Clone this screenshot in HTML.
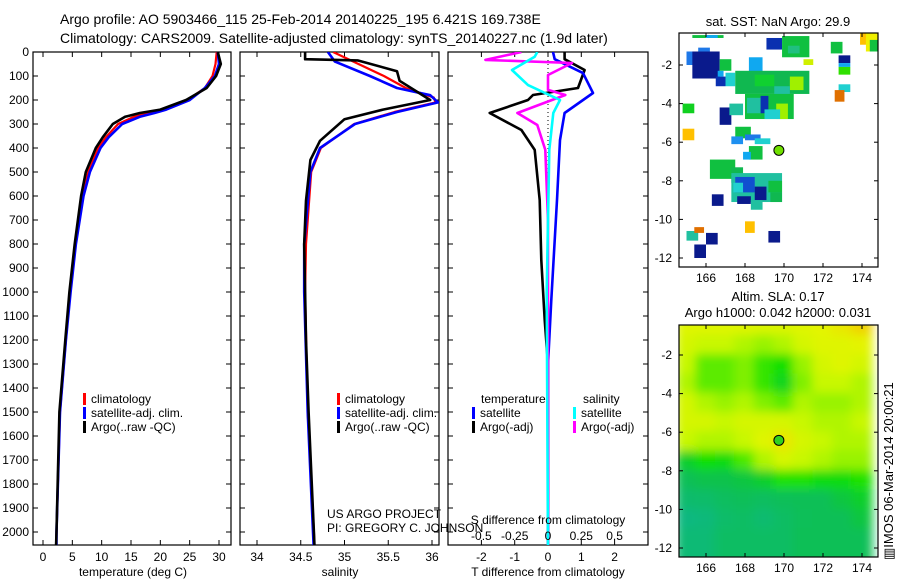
<!DOCTYPE html>
<html><head><meta charset="utf-8"><style>
body{margin:0;background:#fff;}
svg{display:block;font-family:"Liberation Sans",sans-serif;}
text{fill:#000;}
</style></head><body>
<svg id="chart" width="900" height="580" viewBox="0 0 900 580" xmlns="http://www.w3.org/2000/svg">
<defs>
<clipPath id="c1"><rect x="33" y="52" width="198" height="493"/></clipPath>
<clipPath id="c2"><rect x="240" y="52" width="199" height="493"/></clipPath>
<clipPath id="c3"><rect x="448" y="52" width="200" height="493"/></clipPath>
<clipPath id="cm1"><rect x="679" y="33" width="199" height="234"/></clipPath>
<clipPath id="cm2"><rect x="679" y="325" width="199" height="232"/></clipPath>
<filter id="blur"><feGaussianBlur stdDeviation="5"/></filter>
</defs>
<text x="60" y="24" font-size="14">Argo profile: AO 5903466_115 25-Feb-2014 20140225_195 6.421S 169.738E</text>
<text x="60" y="43" font-size="14">Climatology: CARS2009. Satellite-adjusted climatology: synTS_20140227.nc (1.9d later)</text>
<text x="778" y="26" font-size="13" text-anchor="middle">sat. SST: NaN Argo: 29.9</text>
<text x="778" y="301" font-size="13" text-anchor="middle">Altim. SLA: 0.17</text>
<text x="778" y="317" font-size="13" text-anchor="middle">Argo h1000: 0.042 h2000: 0.031</text>
<text transform="translate(893,560) rotate(-90)" font-size="13">▥IMOS 06-Mar-2014 20:00:21</text>
<g id="g"></g>
</svg>
<script>
// ---- data ----
const depthTicks=[0,100,200,300,400,500,600,700,800,900,1000,1100,1200,1300,1400,1500,1600,1700,1800,1900,2000];
const tempTicks=[0,5,10,15,20,25,30];
const salTicks=[34,34.5,35,35.5,36];
const tdiffTicks=[-2,-1,0,1,2];
const sdiffTicks=[-0.5,-0.25,0,0.25,0.5];
const sdiffLabels=["-0.5","-0.25","0","0.25","0.5"];
const lonTicks=[166,168,170,172,174];
const latTicks=[-2,-4,-6,-8,-10,-12];

const tDepth=[0,50,100,150,200,240,254,270,300,355,400,500,600,800,1000,1200,1500,2000,2080];
const tClim=[29.6,29.4,28.9,27.6,24.6,20.5,18,15.5,12.8,10.7,9.4,7.7,6.7,5.5,4.6,3.9,2.9,2.3,2.2];
const tArgo=[29.8,30.3,29.5,27.9,24.4,20,16.5,14,11.9,10.2,9.0,7.3,6.5,5.4,4.5,3.8,2.8,2.3,2.2];
const tSat=[29.8,30.0,29.3,27.6,25.0,21,19,16.5,13.5,11.2,9.8,8.0,6.9,5.6,4.7,3.9,2.9,2.3,2.3];

const sArgoDepth=[0,30,35,80,120,200,240,280,370,450,620,800,1000,1200,1500,2000,2080];
const sArgo=[34.55,34.55,35.15,35.6,35.63,35.98,35.44,35.0,34.72,34.61,34.56,34.54,34.55,34.56,34.59,34.65,34.66];
const sClimDepth=[0,100,150,190,210,250,300,400,500,800,1000,1500,2000,2080];
const sClim=[34.87,35.45,35.7,36.02,36.04,35.57,35.11,34.73,34.62,34.56,34.55,34.58,34.65,34.66];
const sSatDepth=[0,40,100,150,180,210,250,300,400,500,800,1000,1500,2000,2080];
const sSat=[34.81,34.89,35.29,35.6,35.98,36.07,35.6,35.12,34.72,34.61,34.54,34.54,34.58,34.64,34.65];

const dTSatDepth=[0,30,88,171,254,367,617,1033,1300,2080];
const dTSat=[0.15,0.2,1.05,1.35,0.5,0.36,0.27,0.1,0.0,0.0];
const dTArgoDepth=[0,30,75,150,179,200,254,325,408,617,867,1117,1300,2080];
const dTArgo=[0.5,0.5,1.1,0.9,-0.45,-0.6,-1.75,-0.8,-0.4,-0.25,-0.2,-0.1,0,0];
const dSArgoDepth=[0,33,46,96,158,179,254,304,408,700,2080];
const dSArgo=[-0.2,-0.47,0.18,0,0,0.13,-0.23,-0.08,-0.02,0,0];
const dSSatDepth=[0,20,75,138,200,254,408,1000,2080];
const dSSat=[-0.08,-0.1,-0.27,-0.15,0.09,0.04,0.01,-0.01,0];

// SST cells: lon1, lat1, lon2, lat2, colour
const sstCells=[
[165.3,-0.45,166.9,-0.6,"#10c040"],[166.0,-0.45,166.6,-0.6,"#10a8f0"],
[165.0,-1.3,165.4,-2.0,"#1e78e8"],[165.3,-1.3,166.7,-2.7,"#0a1a8c"],[165.6,-1.1,166.2,-1.3,"#1e78e8"],
[166.7,-1.7,167.3,-2.3,"#10c040"],[166.5,-2.6,167.0,-3.1,"#0a30b0"],[167.0,-2.4,167.5,-3.1,"#20d0d0"],[166.6,-2.3,166.9,-2.6,"#10a8f0"],
[169.1,-0.6,169.9,-1.2,"#0a30b0"],[169.9,-0.5,171.3,-1.6,"#10c040"],[170.2,-1.0,170.8,-1.4,"#20c080"],
[171.0,-1.7,171.5,-2.0,"#d0f000"],[168.2,-1.6,168.9,-2.5,"#10a8f0"],
[167.5,-2.3,171.3,-3.5,"#10b850"],[168.5,-2.5,169.5,-3.1,"#10d030"],[170.3,-2.6,171.0,-3.3,"#a0f000"],[169.5,-3.1,170.3,-3.5,"#20c0a0"],
[168.0,-3.5,170.5,-4.8,"#10c040"],[168.1,-3.7,168.8,-4.5,"#20c0a0"],[168.8,-3.6,169.2,-4.5,"#0a30b0"],[169.6,-4.0,170.2,-4.8,"#a0f000"],[169.0,-4.3,169.8,-4.8,"#20d0d0"],
[172.4,-0.8,173.0,-1.4,"#10c040"],[172.8,-1.5,173.4,-1.9,"#0a1a8c"],[172.8,-1.9,173.4,-2.1,"#10a8f0"],[172.8,-2.1,173.4,-2.5,"#30e000"],
[173.9,-0.3,174.5,-0.95,"#ffc000"],[174.2,-0.3,174.8,-1.3,"#f0f000"],[174.4,-0.7,174.8,-1.3,"#10c040"],
[172.8,-3.0,173.4,-3.4,"#20d0d0"],[172.6,-3.3,173.1,-3.9,"#e07000"],
[164.8,-4.0,165.4,-4.5,"#10d020"],[166.7,-4.2,167.3,-5.1,"#0a1a8c"],[167.2,-4.0,167.9,-4.6,"#20c0a0"],[164.8,-5.3,165.4,-5.9,"#ffc000"],
[167.5,-5.2,168.3,-5.8,"#10c040"],[167.3,-5.7,167.9,-6.1,"#1e90f0"],[168.0,-5.6,168.8,-5.9,"#1e78e8"],[168.5,-5.8,169.3,-6.1,"#20d0d0"],
[168.2,-6.2,168.9,-6.9,"#10c040"],[167.9,-6.5,168.3,-6.9,"#10a8f0"],
[166.2,-6.9,167.5,-7.9,"#10c040"],[167.3,-7.3,167.9,-8.1,"#10b850"],
[167.3,-7.6,169.9,-9.1,"#20c0a0"],[167.5,-7.8,168.5,-8.6,"#1050d0"],[168.5,-8.3,169.1,-9.0,"#0a1a8c"],[169.2,-8.0,169.9,-8.6,"#10c040"],[167.4,-8.1,167.9,-8.6,"#20d0d0"],
[166.3,-8.7,166.9,-9.3,"#0a1a8c"],[167.6,-8.8,168.3,-9.2,"#0a1a8c"],[168.3,-9.0,168.9,-9.5,"#20c0a0"],[169.3,-8.6,169.9,-9.1,"#10b850"],
[168.0,-10.1,168.5,-10.7,"#ffc000"],[169.2,-10.6,169.8,-11.2,"#0a1a8c"],
[165.0,-10.6,165.6,-11.1,"#20c0a0"],[165.4,-10.4,165.9,-10.7,"#e07000"],[165.4,-11.3,166.0,-12.0,"#0a1a8c"],[166.0,-10.7,166.6,-11.3,"#0a1a8c"]
];

// SLA grid values (rows lat -0.5..-12.5, cols lon 165..174)
const slaLats=[-0.5,-1.5,-2.5,-3.5,-4.5,-5.5,-6.5,-7.5,-8.5,-9.5,-10.5,-11.5,-12.5];
const slaLons=[165,166,167,168,169,170,171,172,173,174];
const slaGrid=[
[0.9,0.9,0.9,0.9,0.88,0.88,0.9,0.92,0.95,1.0],
[0.85,0.8,0.8,0.75,0.7,0.75,0.85,0.9,0.9,0.92],
[0.8,0.6,0.6,0.65,0.55,0.5,0.7,0.85,0.9,0.85],
[0.75,0.6,0.6,0.65,0.55,0.45,0.65,0.8,0.8,0.75],
[0.85,0.75,0.7,0.75,0.65,0.6,0.75,0.7,0.7,0.75],
[0.85,0.85,0.8,0.85,0.85,0.85,0.8,0.75,0.75,0.8],
[0.8,0.75,0.75,0.8,0.9,0.95,0.85,0.8,0.75,0.75],
[0.42,0.5,0.48,0.58,0.75,0.85,0.8,0.75,0.7,0.7],
[0.33,0.36,0.36,0.38,0.42,0.52,0.52,0.48,0.48,0.52],
[0.25,0.26,0.3,0.32,0.3,0.32,0.33,0.33,0.38,0.42],
[0.18,0.2,0.26,0.28,0.24,0.28,0.32,0.33,0.33,0.38],
[0.22,0.22,0.28,0.28,0.28,0.28,0.33,0.33,0.33,0.33],
[0.22,0.22,0.28,0.28,0.28,0.28,0.33,0.33,0.33,0.33]
];
const argoLon=169.738, argoLat=-6.421;

// ---- scales ----
const yD=d=>52+d*0.24;
const xT=v=>43+v*(219-43)/30;
const xS=v=>257+(v-34)*(432-257)/2;
const xDT=v=>548+v*33.3;
const xDS=v=>548+v*133.2;
const mX=lon=>706+(lon-166)*19.5;
const mY1=lat=>65+(-2-lat)*19.3;
const mY2=lat=>355+(-2-lat)*19.3;

const NS="http://www.w3.org/2000/svg";
const G=document.getElementById('g');
function el(tag,attrs,parent){const e=document.createElementNS(NS,tag);for(const k in attrs)e.setAttribute(k,attrs[k]);(parent||G).appendChild(e);return e;}
function txt(x,y,s,size,anchor,parent){const t=el('text',{x:x,y:y,'font-size':size,'text-anchor':anchor||'start'},parent);t.textContent=s;return t;}

function frame(x,y,w,h,name){
  const r=el('rect',{x:x,y:y,width:w,height:h,fill:'none',stroke:'#000','stroke-width':1.2});
  
  
}
function line(xs,ds,fx,col,w,clip,name){
  const pts=xs.map((v,i)=>fx(v).toFixed(1)+','+yD(ds[i]).toFixed(1)).join(' ');
  const p=el('polyline',{points:pts,fill:'none',stroke:col,'stroke-width':w,'clip-path':'url(#'+clip+')','stroke-linejoin':'round'});
  
  
}
function depthAxis(x0,x1,labels){
  depthTicks.forEach(d=>{
    el('line',{x1:x0,y1:yD(d),x2:x0+5,y2:yD(d),stroke:'#000'});
    el('line',{x1:x1,y1:yD(d),x2:x1-5,y2:yD(d),stroke:'#000'});
    if(labels){const t=txt(x0-4,yD(d)+4,String(d),12,'end');
      
      }
  });
}
function xAxis(ticks,fx,labels,yb,ytop,ylab){
  ticks.forEach((v,i)=>{
    el('line',{x1:fx(v),y1:yb,x2:fx(v),y2:yb-5,stroke:'#000'});
    el('line',{x1:fx(v),y1:ytop,x2:fx(v),y2:ytop+5,stroke:'#000'});
    if(ylab){const t=txt(fx(v),ylab,labels?labels[i]:String(v),12,'middle');
      
      }
  });
}
function legendItem(x,y,col,label){
  const r=el('rect',{x:x,y:y-10,width:3,height:12,fill:col});
  
  
  const t=txt(x+8,y,label,12);
  
  
}

// panel 1: temperature
frame(33,52,198,493,'temperature-panel');
depthAxis(33,231,true);
xAxis(tempTicks,xT,null,545,52,561);
line(tClim,tDepth,xT,'#ff0000',2.2,'c1','temp-climatology-line');
line(tSat,tDepth,xT,'#0000ff',2.6,'c1','temp-satellite-line');
line(tArgo,tDepth,xT,'#000000',2.6,'c1','temp-argo-line');
let t=txt(133,576,'temperature (deg C)',12,'middle');
legendItem(83,403,'#ff0000','climatology');
legendItem(83,417,'#0000ff','satellite-adj. clim.');
legendItem(83,431,'#000000','Argo(..raw -QC)');

// panel 2: salinity
frame(240,52,199,493,'salinity-panel');
depthAxis(240,439,false);
xAxis(salTicks,xS,["34","34.5","35","35.5","36"],545,52,561);
line(sClim,sClimDepth,xS,'#ff0000',2.2,'c2','sal-climatology-line');
line(sSat,sSatDepth,xS,'#0000ff',2.6,'c2','sal-satellite-line');
line(sArgo,sArgoDepth,xS,'#000000',2.6,'c2','sal-argo-line');
t=txt(340,576,'salinity',12,'middle');
legendItem(337,403,'#ff0000','climatology');
legendItem(337,417,'#0000ff','satellite-adj. clim.');
legendItem(337,431,'#000000','Argo(..raw -QC)');
t=txt(327,518,'US ARGO PROJECT',12);
t=txt(327,532,'PI: GREGORY C. JOHNSON',12);

// panel 3: differences
frame(448,52,200,493,'difference-panel');
depthAxis(448,648,false);
xAxis(tdiffTicks,xDT,null,545,52,561);
el('line',{x1:548,y1:52,x2:548,y2:545,stroke:'#000','stroke-dasharray':'1,3'});
line(dTArgo,dTArgoDepth,xDT,'#000000',2.6,'c3','tdiff-argo-line');
line(dTSat,dTSatDepth,xDT,'#0000ff',2.6,'c3','tdiff-satellite-line');
line(dSArgo,dSArgoDepth,xDS,'#ff00ff',2.6,'c3','sdiff-argo-line');
line(dSSat,dSSatDepth,xDS,'#00ffff',2.6,'c3','sdiff-satellite-line');
sdiffTicks.forEach((v,i)=>{const tt=txt(xDS(v),540,sdiffLabels[i],12,'middle');
  });
t=txt(548,524,'S difference from climatology',12,'middle');
t=txt(548,576,'T difference from climatology',12,'middle');
t=txt(481,403,'temperature',12);
t=txt(583,403,'salinity',12);
legendItem(472,417,'#0000ff','satellite');
legendItem(472,431,'#000000','Argo(-adj)');
legendItem(573,417,'#00ffff','satellite');
legendItem(573,431,'#ff00ff','Argo(-adj)');

// map 1: SST
const m1=el('g',{'clip-path':'url(#cm1)'});


sstCells.forEach(c=>{
  const x1=mX(c[0]),x2=mX(c[2]),y1=mY1(c[1]),y2=mY1(c[3]);
  const r=el('rect',{x:Math.min(x1,x2),y:Math.min(y1,y2),width:Math.abs(x2-x1),height:Math.abs(y2-y1),fill:c[4]},m1);
  
  
});
let mk=el('circle',{cx:mX(argoLon),cy:mY1(argoLat),r:5,fill:'#70e000',stroke:'#000','stroke-width':1});


frame(679,33,199,234,'sst-map-frame');

// map 2: SLA
function slaColor(v){
  const stops=[[0.18,[16,184,128]],[0.35,[16,192,80]],[0.5,[16,224,0]],[0.65,[128,240,0]],[0.8,[200,248,0]],[0.92,[228,244,0]],[1.0,[240,210,0]]];
  for(let i=1;i<stops.length;i++){ if(v<=stops[i][0]){const a=stops[i-1],b=stops[i];const f=Math.max(0,(v-a[0])/(b[0]-a[0]));
    return 'rgb('+a[1].map((c,k)=>Math.round(c+(b[1][k]-c)*f)).join(',')+')';}}
  return 'rgb(240,210,0)';
}
const m2=el('g',{'clip-path':'url(#cm2)'});


const m2b=el('g',{filter:'url(#blur)'},m2);
slaGrid.forEach((row,i)=>row.forEach((v,j)=>{
  const r=el('rect',{x:mX(slaLons[j]-0.5)-1,y:mY2(slaLats[i]+0.5)-1,width:19.5+2,height:19.3+2,fill:slaColor(v)},m2b);
  
  
}));
mk=el('circle',{cx:mX(argoLon),cy:mY2(argoLat),r:5,fill:'#30d020',stroke:'#000','stroke-width':1});


frame(679,325,199,232,'sla-map-frame');

// map axes
[[33,267,mY1],[325,557,mY2]].forEach(([top,bot,fy])=>{
  lonTicks.forEach(v=>{
    el('line',{x1:mX(v),y1:bot,x2:mX(v),y2:bot-4,stroke:'#000'});
    el('line',{x1:mX(v),y1:top,x2:mX(v),y2:top+4,stroke:'#000'});
    const tt=txt(mX(v),bot+15,String(v),12,'middle');
    
  });
  latTicks.forEach(v=>{
    el('line',{x1:679,y1:fy(v),x2:683,y2:fy(v),stroke:'#000'});
    el('line',{x1:878,y1:fy(v),x2:874,y2:fy(v),stroke:'#000'});
    const tt=txt(672,fy(v)+4,String(v),12,'end');
    
  });
});
</script>
</body></html>
